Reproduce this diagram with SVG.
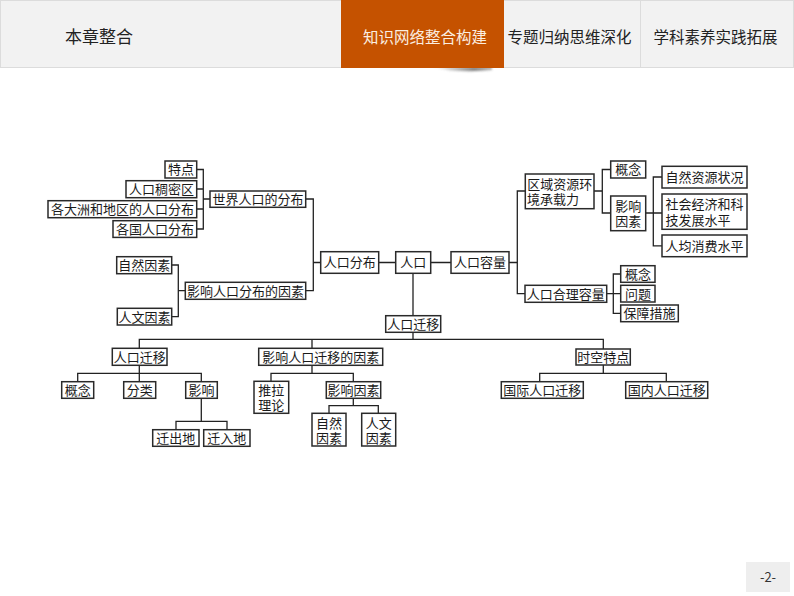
<svg xmlns="http://www.w3.org/2000/svg" width="794" height="596" viewBox="0 0 794 596">
<defs>
<filter id="blur" x="-20%" y="-200%" width="140%" height="500%"><feGaussianBlur stdDeviation="0.8"/></filter>
<linearGradient id="sh" x1="0" y1="0" x2="1" y2="0"><stop offset="0" stop-color="#777" stop-opacity="0"/><stop offset="0.7" stop-color="#666" stop-opacity="0.8"/><stop offset="1" stop-color="#666" stop-opacity="0.5"/></linearGradient>
</defs>
<style>
text{font-family:"Noto Sans CJK SC","Liberation Sans",sans-serif}
.b rect{fill:#fff;stroke:#2a2a2a;stroke-width:1.5}
.b text{font-size:13px;fill:#1a1a1a;text-anchor:middle}
.h{font-size:15.5px;fill:#222;text-anchor:middle}
#connectors path{fill:none;stroke:#222;stroke-width:1.3}
</style>
<g id="header">
<rect x="0.5" y="0.5" width="793" height="67" fill="#f2f2f2" stroke="#dcdcdc"/>
<line x1="640.5" y1="0" x2="640.5" y2="67" stroke="#dcdcdc"/>
<path d="M432 67H492V70Q475 72 450 70.500Z" fill="url(#sh)" filter="url(#blur)"/>
<rect x="341" y="0" width="163" height="68" fill="#c55200"/>
<text x="99" y="43" class="h" style="font-size:17px">本章整合</text>
<text x="425" y="43" class="h" style="fill:#fbeee0">知识网络整合构建</text>
<text x="569.500" y="43" class="h">专题归纳思维深化</text>
<text x="715.500" y="43" class="h">学科素养实践拓展</text>
</g>
<g id="connectors">
<path d="M196.700 169.500H203.300V229H196.700M196.700 189H203.300M196.700 209H203.300M203.300 199H210"/>
<path d="M171.700 265H178.300V316.700H171.700M178.300 290.700H185.300"/>
<path d="M305.700 199H313.300V290.700H305.700M313.300 262.500H320.700"/>
<path d="M378.700 262.500H395.700M430.700 262.500H451"/>
<path d="M509 262.500H517.300M525.300 191H517.300V293.700H525"/>
<path d="M594 191H602.300M610.700 169.500H602.300V213H610.700"/>
<path d="M645.700 213H662M662 177H653.300V245.800H662"/>
<path d="M606.700 293.700H620.700M620.700 274H613.300V313.300H620.700"/>
<path d="M413 273.300V315.700M413 332.300V339.300"/>
<path d="M139.300 348.300V339.300H603.300V349M312 339.300V348.300"/>
<path d="M139.300 365.300V381.700M77.700 381.700V373.300H201.300V381.700"/>
<path d="M201.300 398.300V421.300M176 429.700V421.300H227V429.700"/>
<path d="M312 365.300V373.300M271 381.300V373.300H353.300V381.700"/>
<path d="M353.300 398.300V405.700M329 413.300V405.700H378.300V413.300"/>
<path d="M603.300 365V373.300M539.700 381.700V373.300H666.300V381.700"/>
</g>
<g id="n1" class="b"><rect x="165" y="161" width="31.700" height="17"/><text x="181" y="174">特点</text></g>
<g id="n2" class="b"><rect x="126" y="180.700" width="70.700" height="17"/><text x="161.500" y="194">人口稠密区</text></g>
<g id="n3" class="b"><rect x="48" y="200.700" width="148.700" height="17"/><text x="122.500" y="214">各大洲和地区的人口分布</text></g>
<g id="n4" class="b"><rect x="113" y="220.700" width="83.700" height="16.700"/><text x="155" y="234">各国人口分布</text></g>
<g id="n5" class="b"><rect x="210" y="191" width="95.700" height="16.300"/><text x="258" y="204">世界人口的分布</text></g>
<g id="n6" class="b"><rect x="116.700" y="256.700" width="55" height="17"/><text x="144.200" y="270">自然因素</text></g>
<g id="n7" class="b"><rect x="117.300" y="308.300" width="54.400" height="16.700"/><text x="144.500" y="322">人文因素</text></g>
<g id="n8" class="b"><rect x="185.300" y="282.300" width="120.400" height="17"/><text x="245.500" y="296">影响人口分布的因素</text></g>
<g id="n9" class="b"><rect x="320.700" y="251.700" width="58" height="21.600"/><text x="349.700" y="267">人口分布</text></g>
<g id="n10" class="b"><rect x="395.700" y="251.700" width="35" height="21.600"/><text x="413.200" y="267">人口</text></g>
<g id="n11" class="b"><rect x="451" y="251.700" width="58" height="21.600"/><text x="480" y="267">人口容量</text></g>
<g id="n12" class="b"><rect x="525.300" y="174" width="68.700" height="34.700"/><text><tspan x="559.700" y="189">区域资源环</tspan><tspan x="553" y="204">境承载力</tspan></text></g>
<g id="n13" class="b"><rect x="610.700" y="161" width="35" height="17"/><text x="628.200" y="174">概念</text></g>
<g id="n14" class="b"><rect x="610.700" y="196" width="35" height="34.700"/><text><tspan x="628.200" y="211">影响</tspan><tspan x="628.200" y="226">因素</tspan></text></g>
<g id="n15" class="b"><rect x="662" y="166.300" width="85" height="21.700"/><text x="704.500" y="182">自然资源状况</text></g>
<g id="n16" class="b"><rect x="662" y="194" width="85" height="35.300"/><text><tspan x="704.500" y="209">社会经济和科</tspan><tspan x="698" y="225">技发展水平</tspan></text></g>
<g id="n17" class="b"><rect x="662" y="235" width="85" height="21.700"/><text x="704.500" y="250.500">人均消费水平</text></g>
<g id="n18" class="b"><rect x="525" y="285.300" width="81.700" height="17"/><text x="565.800" y="299">人口合理容量</text></g>
<g id="n19" class="b"><rect x="620.700" y="265.700" width="34.300" height="16.600"/><text x="638" y="279">概念</text></g>
<g id="n20" class="b"><rect x="620.700" y="285.300" width="34.300" height="16.700"/><text x="638" y="299">问题</text></g>
<g id="n21" class="b"><rect x="620.700" y="305" width="57.600" height="16.700"/><text x="649.500" y="318">保障措施</text></g>
<g id="n22" class="b"><rect x="385.700" y="315.700" width="55" height="16.600"/><text x="413.200" y="329">人口迁移</text></g>
<g id="n23" class="b"><rect x="112.300" y="348.300" width="54.700" height="17"/><text x="139.700" y="362">人口迁移</text></g>
<g id="n24" class="b"><rect x="258.700" y="348.300" width="124" height="17"/><text x="320.700" y="362">影响人口迁移的因素</text></g>
<g id="n25" class="b"><rect x="576" y="349" width="54.300" height="16"/><text x="603.200" y="362">时空特点</text></g>
<g id="n26" class="b"><rect x="61.700" y="381.700" width="32" height="16.600"/><text x="77.700" y="395">概念</text></g>
<g id="n27" class="b"><rect x="123.700" y="381.700" width="32" height="16.600"/><text x="139.700" y="395">分类</text></g>
<g id="n28" class="b"><rect x="185.700" y="381.700" width="31.600" height="16.600"/><text x="201.500" y="395">影响</text></g>
<g id="n29" class="b"><rect x="152.700" y="429.700" width="46.300" height="16.600"/><text x="175.800" y="443">迁出地</text></g>
<g id="n30" class="b"><rect x="203.700" y="429.700" width="46.300" height="16.600"/><text x="226.800" y="443">迁入地</text></g>
<g id="n31" class="b"><rect x="254" y="381.300" width="34.700" height="32"/><text><tspan x="271.300" y="395">推拉</tspan><tspan x="271.300" y="410">理论</tspan></text></g>
<g id="n32" class="b"><rect x="326.300" y="381.700" width="54.400" height="16.600"/><text x="353.500" y="395">影响因素</text></g>
<g id="n33" class="b"><rect x="312" y="413.300" width="34" height="32.700"/><text><tspan x="329" y="428">自然</tspan><tspan x="329" y="443">因素</tspan></text></g>
<g id="n34" class="b"><rect x="361.700" y="413.300" width="34" height="32.700"/><text><tspan x="378.700" y="428">人文</tspan><tspan x="378.700" y="443">因素</tspan></text></g>
<g id="n35" class="b"><rect x="501.300" y="381.700" width="82" height="16.600"/><text x="542.300" y="395">国际人口迁移</text></g>
<g id="n36" class="b"><rect x="625.700" y="381.700" width="82" height="16.600"/><text x="666.700" y="395">国内人口迁移</text></g>
<g id="page">
<rect x="746" y="562" width="44" height="30" fill="#eeeeee"/>
<text x="768" y="582" style="font-size:13px;fill:#333;text-anchor:middle">-2-</text>
</g>
</svg>
